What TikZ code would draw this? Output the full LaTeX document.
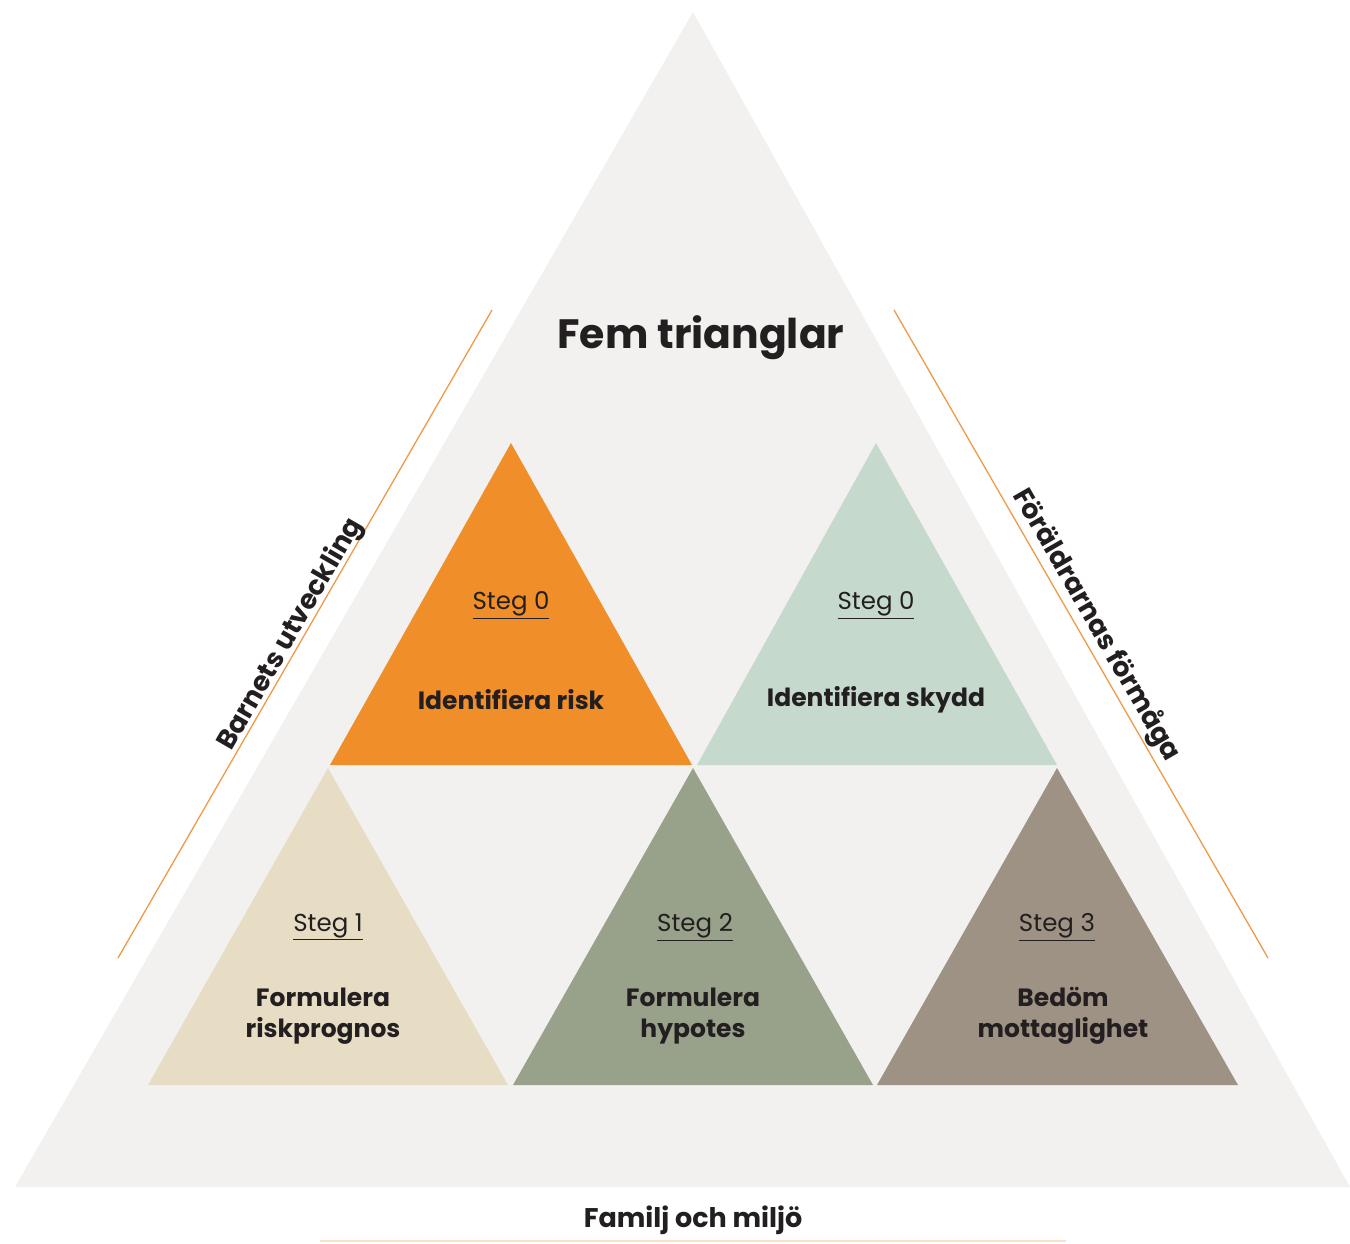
\documentclass[tikz,border=0pt]{standalone}
\usepackage{fontspec}
\setmainfont{Poppins}
\definecolor{bggrey}{HTML}{F2F1EF}
\definecolor{orangeT}{HTML}{F08E2A}
\definecolor{mintT}{HTML}{C6D9CD}
\definecolor{tanT}{HTML}{E6DDC4}
\definecolor{greenT}{HTML}{98A18A}
\definecolor{brownT}{HTML}{9E9284}
\definecolor{lineO}{HTML}{EE9A48}
\definecolor{paleO}{HTML}{FBE3C2}
\definecolor{txt}{HTML}{231F20}
\begin{document}
\begin{tikzpicture}[x=1pt,y=-1pt,
  steglbl/.style={text=txt,font=\fontsize{24.5}{28}\selectfont,inner sep=0pt},
  actlbl/.style={text=txt,font=\fontsize{25}{31}\selectfont\bfseries,align=center,inner sep=0pt},
  sidelbl/.style={text=txt,font=\fontsize{27}{30}\selectfont\bfseries,inner sep=0pt},
  sideline/.style={draw=lineO,line width=1.3pt}]
\useasboundingbox (0,0) rectangle (1350,1243);
% outer triangle
\fill[bggrey] (693,12) -- (1350,1187) -- (15,1187) -- cycle;
% inner triangles
\fill[orangeT] (511,443) -- (692,765) -- (330,765) -- cycle;
\fill[mintT] (876,443) -- (1057,765) -- (697,765) -- cycle;
\fill[tanT] (328,768) -- (508,1085) -- (148,1085) -- cycle;
\fill[greenT] (693,768) -- (873,1085) -- (513,1085) -- cycle;
\fill[brownT] (1057,768) -- (1238,1085) -- (877,1085) -- cycle;
% side lines
\coordinate (LA) at (118,958);
\coordinate (LB) at (492,310);
\coordinate (RA) at (894,310);
\coordinate (RB) at (1268,958);
\coordinate (BA) at (320,1241);
\coordinate (BB) at (1066,1241);
\draw[sideline] (LA) -- (LB) node[pos=0.49,sloped,above=-3pt,sidelbl] (barn) {Barnets utveckling};
\draw[sideline] (RA) -- (RB) node[pos=0.5,sloped,above=2pt,sidelbl] (foral) {Föräldrarnas förmåga};
\draw[paleO,line width=1.5pt] (BA) -- (BB);
% title
\node[text=txt,font=\fontsize{41}{45}\selectfont\bfseries] (title) at (701,338) {Fem trianglar};
\node[sidelbl] (fam) at (693,1220) {Familj och miljö};
% labels
\node[steglbl] (s0a) at (511,605) {\underline{Steg 0}};
\node[actlbl] (a0a) at (511,700) {Identifiera risk};
\node[steglbl] (s0b) at (876,605) {\underline{Steg 0}};
\node[actlbl] (a0b) at (876,700) {Identifiera skydd};
\node[steglbl] (s1) at (328,927) {\underline{Steg 1}};
\node[actlbl] (a1) at (323,1016) {Formulera\\riskprognos};
\node[steglbl] (s2) at (695,927) {\underline{Steg 2}};
\node[actlbl] (a2) at (693,1016) {Formulera\\hypotes};
\node[steglbl] (s3) at (1057,927) {\underline{Steg 3}};
\node[actlbl] (a3) at (1063,1016) {Bedöm\\mottaglighet};
\end{tikzpicture}
\end{document}
